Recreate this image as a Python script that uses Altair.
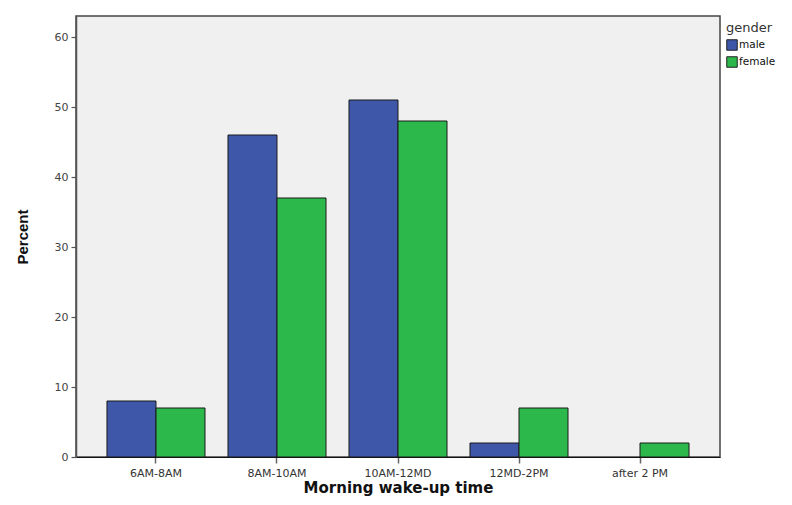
import altair as alt
import pandas as pd

categories = ["6AM-8AM", "8AM-10AM", "10AM-12MD", "12MD-2PM", "after 2 PM"]
genders = ["male", "female"]
male_pct = [8, 46, 51, 2, 0]
female_pct = [7, 37, 48, 7, 2]
y_ticks = [0, 10, 20, 30, 40, 50, 60]

rows = []
for c, m, f in zip(categories, male_pct, female_pct):
    rows.append({"time": c, "gender": "male", "pct": m})
    rows.append({"time": c, "gender": "female", "pct": f})
df = pd.DataFrame(rows)

chart = alt.Chart(df).mark_bar(stroke="#1a1a1a", strokeWidth=1).encode(
    x=alt.X("time:N", sort=categories,
            scale=alt.Scale(paddingInner=0.19, paddingOuter=0.256),
            axis=alt.Axis(title="Morning wake-up time", labelAngle=0,
                          labelFont="DejaVu Sans", labelFontSize=11, labelColor="#333",
                          titleFont="DejaVu Sans", titleFontSize=15, titleFontWeight="bold",
                          titleColor="#111", titlePadding=2, labelPadding=4,
                          domainColor="#111", domainWidth=1.2, tickColor="#666",
                          tickSize=6, tickWidth=1.5)),
    xOffset=alt.XOffset("gender:N", sort=genders),
    y=alt.Y("pct:Q", scale=alt.Scale(domain=[0, 63], nice=False),
            axis=alt.Axis(title="Percent", values=y_ticks, grid=False,
                          labelFont="DejaVu Sans", labelFontSize=11, labelColor="#444",
                          titleFont="Liberation Sans", titleFontSize=15, titleFontWeight="bold",
                          titleColor="#111", titlePadding=24, labelPadding=3,
                          domainColor="#555", domainWidth=1.5, tickColor="#555",
                          tickSize=5, tickWidth=1.2)),
    color=alt.Color("gender:N", sort=genders,
                    scale=alt.Scale(domain=genders, range=["#3e57a8", "#2db84b"]),
                    legend=alt.Legend(title="gender", orient="none", legendX=650, legendY=6,
                                      titleFont="DejaVu Sans", titleFontSize=13,
                                      titleFontWeight="normal", titleColor="#333",
                                      labelFont="DejaVu Sans", labelFontSize=10.5,
                                      labelColor="#111", symbolType="square",
                                      symbolSize=110, symbolStrokeColor="#222",
                                      symbolStrokeWidth=1, rowPadding=1, titlePadding=4,
                                      symbolOffset=0, labelOffset=1)),
).transform_filter(
    alt.datum.pct > 0
).properties(
    width=644, height=441,
    autosize=alt.AutoSizeParams(type="none"),
    padding={"left": 68, "top": 8, "right": 64, "bottom": 40},
).configure_view(
    fill="#f0f0f0", stroke="#444", strokeWidth=1.5
)

chart.save("out.html", embed_options={"renderer": "svg", "actions": False})
